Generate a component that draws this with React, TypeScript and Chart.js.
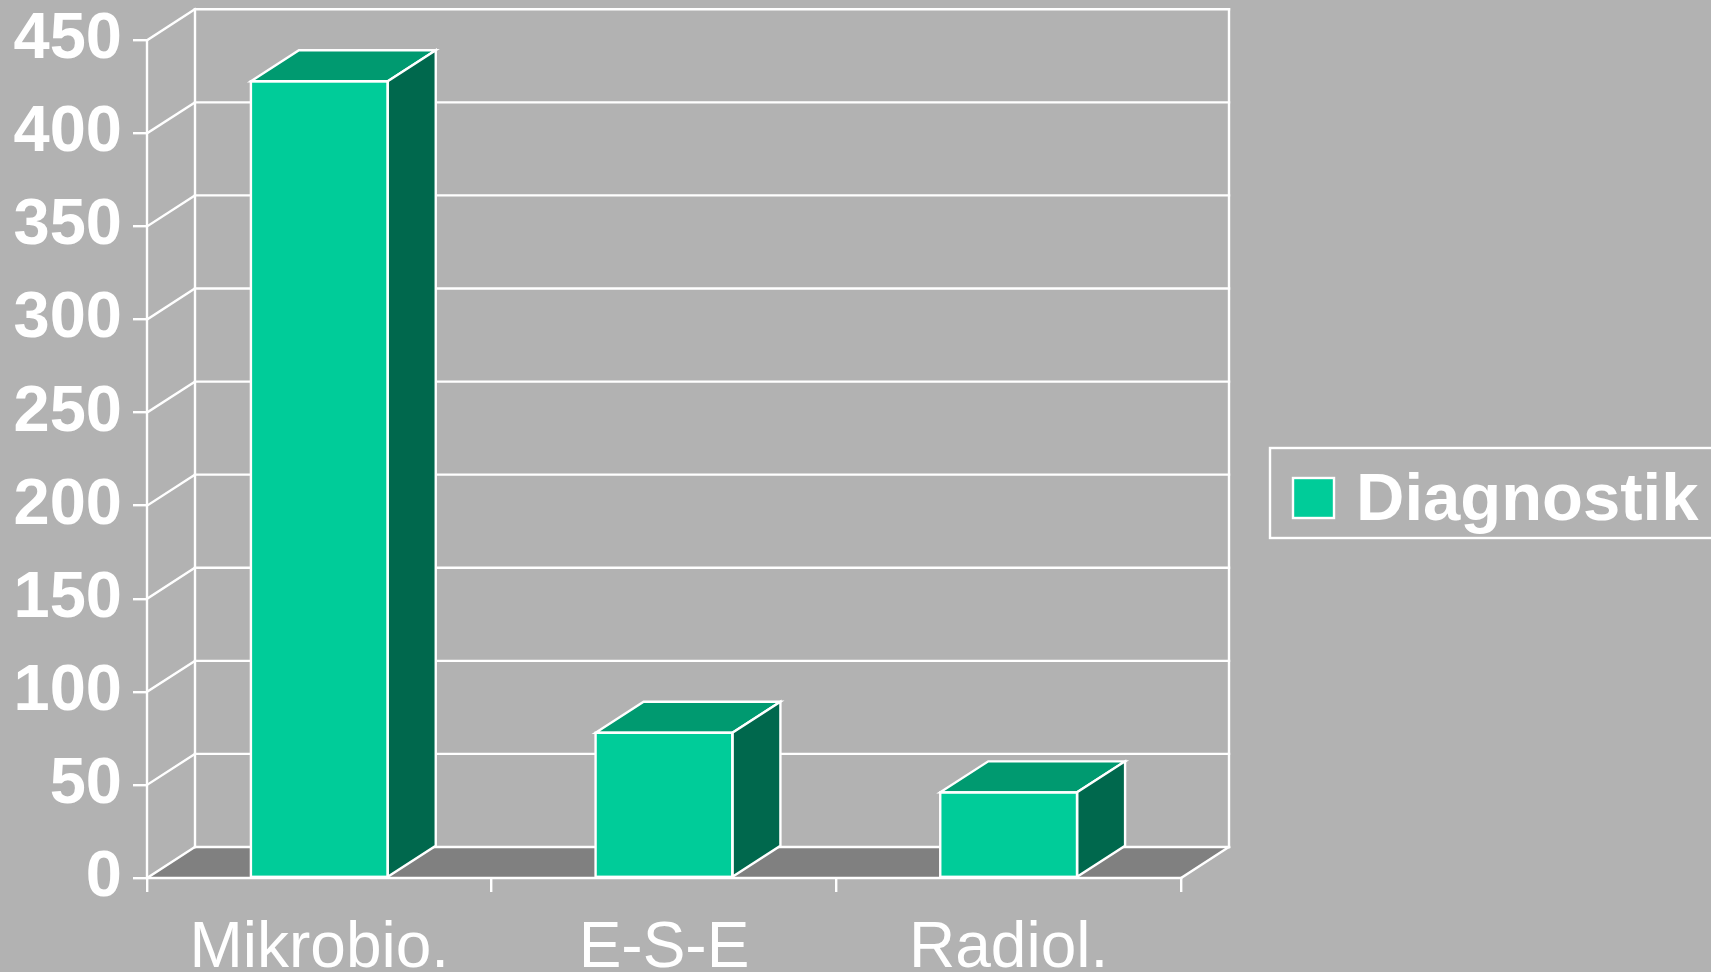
import { useEffect, useRef } from 'react';
import { Chart, registerables } from 'chart.js';

Chart.register(...registerables);

// Categories and values of the single series
const categories = ['Mikrobio.', 'E-S-E', 'Radiol.'];
const diagnostikValues = [428, 78, 46];
const seriesLabel = 'Diagnostik';

// Value axis range
const yMin = 0;
const yMax = 450;
const yStep = 50;

const FONT = '"Liberation Sans", Arial, Helvetica, sans-serif';
const BG = '#b2b2b2';
const FLOOR = '#808080';
const FRONT = '#00cc99';
const TOP = '#009a70';
const SIDE = '#00684d';
const LINE = '#ffffff';
const LW = 2.4;

// Depth offset of the 3D box (back plane relative to front plane)
const DX = 48;
const DY = -31;

const boxPlugin = {
  id: 'box3d',
  beforeDatasetsDraw(chart: any) {
    const { ctx, chartArea, scales } = chart;
    const { left, right, bottom } = chartArea;
    const y = scales.y;
    ctx.save();
    // floor
    ctx.fillStyle = FLOOR;
    ctx.beginPath();
    ctx.moveTo(left, bottom);
    ctx.lineTo(right, bottom);
    ctx.lineTo(right + DX, bottom + DY);
    ctx.lineTo(left + DX, bottom + DY);
    ctx.closePath();
    ctx.fill();

    ctx.strokeStyle = LINE;
    ctx.lineWidth = LW;
    ctx.lineCap = 'square';
    const topPx = y.getPixelForValue(yMax);
    // back wall gridlines and side wall diagonals
    y.ticks.forEach((t: any) => {
      const py = y.getPixelForValue(t.value);
      ctx.beginPath();
      ctx.moveTo(left + DX, py + DY);
      ctx.lineTo(right + DX, py + DY);
      ctx.stroke();
      ctx.beginPath();
      ctx.moveTo(left, py);
      ctx.lineTo(left + DX, py + DY);
      ctx.stroke();
    });
    // back wall verticals
    ctx.beginPath();
    ctx.moveTo(left + DX, topPx + DY);
    ctx.lineTo(left + DX, bottom + DY);
    ctx.moveTo(right + DX, topPx + DY);
    ctx.lineTo(right + DX, bottom + DY);
    ctx.stroke();
    // floor right edge
    ctx.beginPath();
    ctx.moveTo(right, bottom);
    ctx.lineTo(right + DX, bottom + DY);
    ctx.stroke();
    // front axis lines
    ctx.beginPath();
    ctx.moveTo(left, topPx);
    ctx.lineTo(left, bottom);
    ctx.moveTo(left, bottom);
    ctx.lineTo(right, bottom);
    ctx.stroke();
    ctx.restore();
  },
  afterDatasetsDraw(chart: any) {
    const { ctx } = chart;
    ctx.save();
    ctx.strokeStyle = LINE;
    ctx.lineWidth = LW;
    ctx.lineJoin = 'miter';
    chart.getDatasetMeta(0).data.forEach((bar: any) => {
      const { x, y, base, width } = bar.getProps(['x', 'y', 'base', 'width'], true);
      const x0 = x - width / 2;
      const x1 = x + width / 2;
      // top face
      ctx.fillStyle = TOP;
      ctx.beginPath();
      ctx.moveTo(x0, y);
      ctx.lineTo(x1, y);
      ctx.lineTo(x1 + DX, y + DY);
      ctx.lineTo(x0 + DX, y + DY);
      ctx.closePath();
      ctx.fill();
      ctx.stroke();
      // side face
      ctx.fillStyle = SIDE;
      ctx.beginPath();
      ctx.moveTo(x1, y);
      ctx.lineTo(x1 + DX, y + DY);
      ctx.lineTo(x1 + DX, base + DY);
      ctx.lineTo(x1, base);
      ctx.closePath();
      ctx.fill();
      ctx.stroke();
      // front face outline
      ctx.strokeRect(x0, y, width, base - y);
    });
    ctx.restore();
  },
  afterDraw(chart: any) {
    const { ctx, chartArea } = chart;
    const lx = chartArea.right + 89;
    const ly = 448;
    ctx.save();
    ctx.strokeStyle = LINE;
    ctx.lineWidth = LW;
    ctx.strokeRect(lx, ly, 480, 90);
    ctx.fillStyle = FRONT;
    ctx.fillRect(lx + 23, ly + 30, 41, 40);
    ctx.strokeRect(lx + 23, ly + 30, 41, 40);
    ctx.fillStyle = LINE;
    ctx.font = `bold 67px ${FONT}`;
    ctx.textBaseline = 'alphabetic';
    ctx.textAlign = 'left';
    ctx.fillText(chart.data.datasets[0].label, lx + 86, ly + 72);
    ctx.restore();
  },
};

export default function App() {
  const canvasRef = useRef<HTMLCanvasElement | null>(null);

  useEffect(() => {
    const canvas = canvasRef.current;
    if (!canvas) return;
    const chart = new Chart(canvas, {
      type: 'bar',
      data: {
        labels: categories,
        datasets: [
          {
            label: seriesLabel,
            data: diagnostikValues,
            backgroundColor: FRONT,
            borderWidth: 0,
            categoryPercentage: 1,
            barPercentage: 0.397,
          },
        ],
      },
      options: {
        responsive: false,
        animation: false,
        devicePixelRatio: 1,
        layout: { padding: { top: 39, right: 530, bottom: 0, left: 0 } },
        plugins: {
          legend: { display: false },
          tooltip: { enabled: false },
        },
        scales: {
          x: {
            grid: {
              offset: true,
              drawOnChartArea: false,
              drawTicks: true,
              tickLength: 14,
              color: LINE,
              lineWidth: LW,
            },
            border: { display: false },
            ticks: {
              color: LINE,
              font: { family: FONT, size: 64, weight: 'normal' },
              padding: 19,
              maxRotation: 0,
              autoSkip: false,
            },
            afterFit: (s: any) => {
              s.height = 94;
            },
          },
          y: {
            min: yMin,
            max: yMax,
            grid: {
              drawOnChartArea: false,
              drawTicks: true,
              tickLength: 14,
              color: LINE,
              lineWidth: LW,
            },
            border: { display: false },
            ticks: {
              stepSize: yStep,
              color: LINE,
              font: { family: FONT, size: 65, weight: 'bold', lineHeight: 0.9 },
              padding: 11,
            },
            afterFit: (s: any) => {
              s.width = 147;
            },
          },
        },
      },
      plugins: [boxPlugin],
    });
    return () => chart.destroy();
  }, []);

  return (
    <div
      style={{
        position: 'fixed',
        left: 0,
        top: 0,
        width: 1711,
        height: 972,
        background: BG,
        overflow: 'hidden',
      }}
    >
      <canvas ref={canvasRef} width={1711} height={972} style={{ display: 'block' }} />
    </div>
  );
}
